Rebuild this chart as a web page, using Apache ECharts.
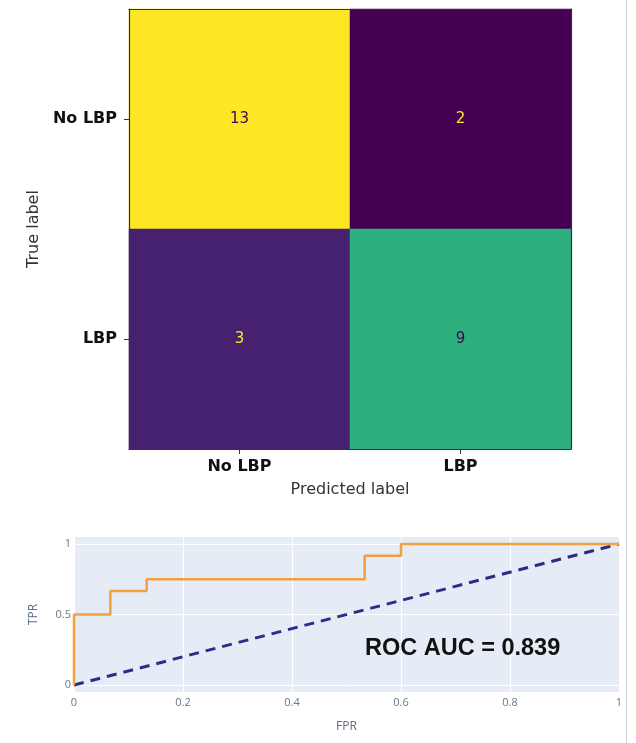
<!DOCTYPE html>
<html>
<head>
<meta charset="utf-8">
<title>Confusion matrix and ROC curve</title>
<script src="https://cdn.jsdelivr.net/npm/echarts@6/dist/echarts.min.js"></script>
<style>
  html, body { margin: 0; padding: 0; background: #ffffff; }
  #chart { width: 636px; height: 743px; }
</style>
</head>
<body>
<div id="chart"></div>
<script>
// Class names (predicted along x, true along y)
const classLabels = ['No LBP', 'LBP'];
// Confusion matrix: rows = true label, columns = predicted label
const confusionRows = [
  [13, 2],
  [3, 9]
];
// ROC curve points
const fprValues = [0, 0, 0.0667, 0.0667, 0.1333, 0.1333, 0.5333, 0.5333, 0.6, 0.6, 1];
const tprValues = [0, 0.5, 0.5, 0.6667, 0.6667, 0.75, 0.75, 0.9167, 0.9167, 1, 1];
// Chance diagonal
const chanceLine = [[0, 0], [1, 1]];
// Tick labels of the ROC axes
const rocTicksY = [0, 0.5, 1];

const viridis = ['#440154', '#472d7b', '#3b528b', '#2c728e', '#21918c',
                 '#28ae80', '#5ec962', '#addc30', '#fde725'];

// Trapezoidal area under the ROC curve
let auc = 0;
for (let i = 1; i < fprValues.length; i++) {
  auc += (fprValues[i] - fprValues[i - 1]) * (tprValues[i] + tprValues[i - 1]) / 2;
}
const aucText = 'ROC AUC = ' + auc.toFixed(3);

const flatVals = confusionRows.flat();
const vMin = Math.min(...flatVals);
const vMax = Math.max(...flatVals);
const threshold = (vMin + vMax) / 2;

const heatData = [];
confusionRows.forEach((row, r) => {
  row.forEach((v, c) => {
    heatData.push({
      value: [c, r, v],
      label: { color: v < threshold ? viridis[viridis.length - 1] : viridis[0] }
    });
  });
});

const rocData = fprValues.map((f, i) => [f, tprValues[i]]);

const chart = echarts.init(document.getElementById('chart'), null, { renderer: 'canvas' });

const cmFont = 'DejaVu Sans';
const plotlyFont = '"Open Sans", "DejaVu Sans", sans-serif';

chart.setOption({
  animation: false,
  backgroundColor: '#ffffff',
  grid: [
    { left: 129, top: 9, width: 442, height: 440, containLabel: false },
    { left: 74, top: 537, width: 545, height: 155, containLabel: false,
      show: true, backgroundColor: '#e5ecf6', borderWidth: 0 }
  ],
  visualMap: {
    type: 'continuous',
    show: false,
    seriesIndex: 0,
    dimension: 2,
    min: vMin,
    max: vMax,
    inRange: { color: viridis }
  },
  xAxis: [
    {
      gridIndex: 0, type: 'category', data: classLabels, z: 5,
      name: 'Predicted label', nameLocation: 'middle', nameGap: 33,
      nameTextStyle: { fontFamily: cmFont, fontSize: 16, color: '#333333' },
      axisLine: { show: true, lineStyle: { color: '#333333', width: 1.2 } },
      axisTick: { show: true, alignWithLabel: true, length: 5, lineStyle: { color: '#333333' } },
      axisLabel: { fontFamily: cmFont, fontSize: 16, fontWeight: 'bold', color: '#111111', margin: 10 },
      splitLine: { show: false }
    },
    {
      gridIndex: 0, type: 'category', data: classLabels, position: 'top', z: 5,
      axisLine: { show: true, lineStyle: { color: '#333333', width: 1.2 } },
      axisTick: { show: false }, axisLabel: { show: false }, splitLine: { show: false }
    },
    {
      gridIndex: 1, type: 'value', min: 0, max: 1, interval: 0.2,
      name: 'FPR', nameLocation: 'middle', nameGap: 29,
      nameTextStyle: { fontFamily: plotlyFont, fontSize: 12, color: '#5d6d84' },
      axisLine: { show: false }, axisTick: { show: false },
      axisLabel: { fontFamily: plotlyFont, fontSize: 11, color: '#6b7688', margin: 5,
                   formatter: v => String(+v.toFixed(1)) },
      splitLine: { show: true, lineStyle: { color: '#ffffff', width: 1 } }
    }
  ],
  yAxis: [
    {
      gridIndex: 0, type: 'category', data: classLabels, inverse: true, z: 5,
      name: 'True label', nameLocation: 'middle', nameGap: 84, nameRotate: 90,
      nameTextStyle: { fontFamily: cmFont, fontSize: 16, color: '#333333' },
      axisLine: { show: true, lineStyle: { color: '#333333', width: 1.2 } },
      axisTick: { show: true, alignWithLabel: true, length: 5, lineStyle: { color: '#333333' } },
      axisLabel: { fontFamily: cmFont, fontSize: 16, fontWeight: 'bold', color: '#111111', margin: 12 },
      splitLine: { show: false }
    },
    {
      gridIndex: 0, type: 'category', data: classLabels, inverse: true, position: 'right', z: 5,
      axisLine: { show: true, lineStyle: { color: '#333333', width: 1.2 } },
      axisTick: { show: false }, axisLabel: { show: false }, splitLine: { show: false }
    },
    {
      gridIndex: 1, type: 'value', min: -0.05, max: 1.05,
      name: 'TPR', nameLocation: 'middle', nameGap: 34, nameRotate: 90,
      nameTextStyle: { fontFamily: plotlyFont, fontSize: 12, color: '#5d6d84' },
      axisLine: { show: false },
      axisTick: { show: false, customValues: rocTicksY },
      axisLabel: { fontFamily: plotlyFont, fontSize: 11, color: '#6b7688', margin: 3,
                   customValues: rocTicksY },
      splitLine: { show: true, lineStyle: { color: '#ffffff', width: 1 } }
    }
  ],
  series: [
    {
      type: 'heatmap',
      xAxisIndex: 0, yAxisIndex: 0,
      data: heatData,
      label: { show: true, fontFamily: cmFont, fontSize: 15 },
      itemStyle: { borderWidth: 0 },
      emphasis: { disabled: true }
    },
    {
      type: 'line', xAxisIndex: 2, yAxisIndex: 2,
      data: chanceLine, symbol: 'none', silent: true, z: 3,
      lineStyle: { color: '#2f2b88', width: 3, type: [10, 7] }
    },
    {
      type: 'line', xAxisIndex: 2, yAxisIndex: 2,
      data: rocData, symbol: 'none', silent: true, z: 4, clip: false,
      lineStyle: { color: '#f5a040', width: 2.5 }
    }
  ],
  graphic: [
    {
      type: 'text', left: 365, top: 637, z: 10, silent: true,
      style: { text: aucText, fontFamily: '"Liberation Sans", Arial, sans-serif',
               fontSize: 23.5, fontWeight: 'bold', fill: '#111111' }
    },
    {
      type: 'line', silent: true, z: 10,
      shape: { x1: 626.5, y1: 0, x2: 626.5, y2: 743 },
      style: { stroke: '#d4d4d4', lineWidth: 1 }
    }
  ]
});
</script>
</body>
</html>
